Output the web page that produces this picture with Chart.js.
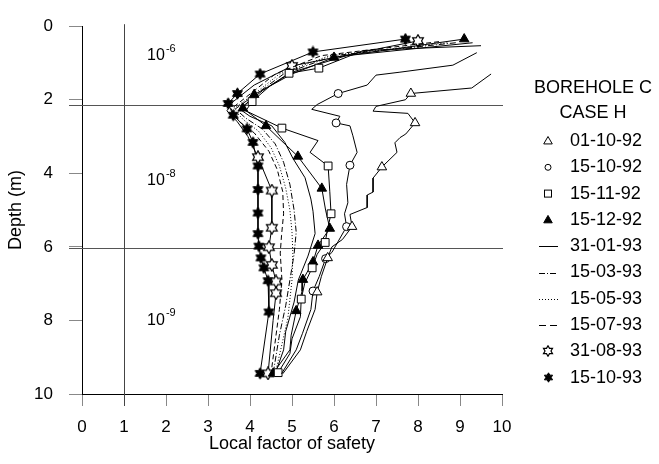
<!DOCTYPE html>
<html><head><meta charset="utf-8">
<script src="https://cdn.jsdelivr.net/npm/chart.js@4.4.0/dist/chart.umd.min.js"></script>
<style>html,body{margin:0;padding:0;background:#fff;}#wrap{width:659px;height:464px;}</style>
</head><body><div id="wrap"><canvas id="c" width="659" height="464"></canvas></div>
<script>
// ---------- DATA ----------
const seriesLabels = ['01-10-92','15-10-92','15-11-92','15-12-92','31-01-93','15-03-93','15-05-93','15-07-93','31-08-93','15-10-93'];
const xTicks = [0,1,2,3,4,5,6,7,8,9,10];
const yTicks = [0,2,4,6,8,10];
const layerDepths = [2.15, 6.03];
const layerLabels = [['10','-6',0.8],['10','-8',4.2],['10','-9',8.0]];
const legendTitle = ['BOREHOLE C','CASE H'];

// [local factor of safety, depth (m)]
const s_011092 = [[9.74,1.3],[9.28,1.68],[7.83,1.83],[7.7,2.0],[7.0,2.18],[6.93,2.31],[7.76,2.37],[7.93,2.63],[7.71,2.93],[7.57,3.03],[7.45,3.17],[7.5,3.43],[7.14,3.83],[6.93,4.13],[6.93,4.51],[6.79,4.59],[6.79,4.93],[6.38,5.12],[6.43,5.45],[6.2,5.8],[5.95,6.0],[5.85,6.3],[5.7,6.8],[5.6,7.23],[5.55,7.7],[5.35,8.3],[5.2,8.8],[4.78,9.45]];
const m_011092 = [1.83,2.63,3.83,5.45,6.3,7.23];
const s_151092 = [[9.4,0.72],[8.83,1.06],[7.57,1.25],[7.0,1.33],[6.79,1.6],[6.1,1.83],[5.6,2.13],[5.47,2.26],[6.14,2.45],[6.05,2.63],[6.38,2.71],[6.45,2.98],[6.55,3.43],[6.38,3.78],[6.3,4.3],[6.33,4.8],[6.25,5.1],[6.3,5.45],[6.1,5.85],[5.95,6.15],[5.8,6.32],[5.65,6.8],[5.5,7.2],[5.45,7.7],[5.25,8.35],[5.1,8.8],[4.75,9.45]];
const m_151092 = [1.83,2.63,3.78,5.45,6.32,7.2];
const s_151192 = [[9.5,0.53],[6.7,0.66],[5.64,1.14],[4.93,1.28],[4.5,1.6],[4.05,2.05],[3.9,2.3],[4.76,2.77],[5.62,3.11],[5.43,3.43],[5.86,3.8],[5.9,4.5],[5.93,5.1],[5.85,5.5],[5.79,5.88],[5.6,6.2],[5.48,6.57],[5.3,7.0],[5.22,7.42],[5.2,7.9],[5.0,8.5],[4.95,8.9],[4.67,9.42]];
const m_151192 = [1.14,1.28,2.05,2.77,3.8,5.1,5.88,6.57,7.42,9.42];
const s_151292 = [[9.1,0.35],[6.0,0.85],[5.0,1.3],[4.1,1.86],[3.83,2.23],[4.38,2.71],[5.14,3.54],[5.71,4.41],[5.8,5.0],[5.9,5.5],[5.62,5.96],[5.5,6.41],[5.26,6.89],[5.24,7.21],[5.1,7.74],[4.98,8.4],[4.95,8.8],[4.55,9.44]];
const m_151292 = [0.35,0.85,1.86,2.23,2.71,3.54,4.41,5.5,5.96,6.41,6.89,7.74,9.44];
const s_310193 = [[9.3,0.45],[6.3,0.8],[5.0,1.25],[4.3,1.75],[3.75,2.25],[4.0,2.45],[4.52,2.71],[4.83,3.16],[5.02,3.59],[5.31,4.12],[5.45,4.7],[5.5,5.03],[5.55,5.64],[5.38,6.25],[5.15,6.9],[5.05,7.5],[4.85,8.3],[4.8,8.8],[4.6,9.45]];
const s_150393 = [[8.9,0.45],[6.0,0.8],[4.8,1.3],[4.2,1.8],[3.65,2.25],[3.9,2.5],[4.3,2.8],[4.6,3.2],[4.8,3.7],[4.95,4.3],[5.05,5.0],[5.1,5.6],[5.05,6.2],[4.95,6.9],[4.85,7.6],[4.7,8.4],[4.55,9.45]];
const s_150593 = [[8.7,0.45],[5.9,0.8],[4.7,1.3],[4.15,1.8],[3.6,2.25],[3.85,2.55],[4.2,2.85],[4.5,3.3],[4.7,3.8],[4.85,4.4],[4.95,5.0],[5.0,5.6],[5.02,6.17],[5.0,6.9],[4.9,7.95],[4.6,9.45]];
const s_150793 = [[8.5,0.42],[5.7,0.8],[4.6,1.3],[4.05,1.8],[3.55,2.25],[3.75,2.6],[4.1,2.9],[4.45,3.4],[4.65,3.9],[4.78,4.5],[4.8,5.1],[4.75,5.7],[4.72,6.17],[4.76,6.9],[4.7,7.7],[4.5,9.45]];
const s_310893 = [[8.0,0.4],[5.0,1.08],[4.1,1.6],[3.6,2.05],[3.45,2.3],[3.7,2.6],[3.95,3.0],[4.19,3.56],[4.52,4.47],[4.52,5.48],[4.45,6.01],[4.52,6.49],[4.62,6.94],[4.62,7.26],[4.55,8.0],[4.43,9.44]];
const m_310893 = [0.4,1.08,3.56,4.47,5.48,6.01,6.49,6.94,7.26,9.44];
const s_151093 = [[7.7,0.35],[5.5,0.7],[4.24,1.3],[3.7,1.83],[3.48,2.1],[3.6,2.42],[3.93,2.79],[4.07,3.16],[4.19,3.8],[4.19,4.44],[4.19,5.08],[4.19,5.64],[4.21,5.98],[4.26,6.3],[4.33,6.57],[4.43,6.92],[4.45,7.77],[4.24,9.44]];
const m_151093 = [0.35,0.7,1.3,1.83,2.1,2.42,2.79,3.16,3.8,4.44,5.08,5.64,5.98,6.3,6.57,6.92,7.77,9.44];

const SERIES = [s_011092,s_151092,s_151192,s_151292,s_310193,s_150393,s_150593,s_150793,s_310893,s_151093];
const MARKS  = [m_011092,m_151092,m_151192,m_151292,[],[],[],[],m_310893,m_151093];

// ---------- STYLE ----------
const FAMILY = '"Liberation Sans", Arial, Helvetica, sans-serif';
function makeStar(size, filled){
  const c = document.createElement('canvas'); c.width = size; c.height = size;
  const g = c.getContext('2d');
  const cx = size/2, cy = size/2, R = size/2 - 0.8, r = R/Math.sqrt(3);
  g.beginPath();
  for (let i=0;i<12;i++){
    const a = -Math.PI/2 + i*Math.PI/6, rr = i%2===0 ? R : r;
    const px = cx + rr*Math.cos(a), py = cy + rr*Math.sin(a);
    if (i===0) g.moveTo(px,py); else g.lineTo(px,py);
  }
  g.closePath();
  g.fillStyle = filled ? '#000' : '#fff'; g.fill();
  g.lineWidth = filled ? 1 : 1.2; g.strokeStyle = '#000'; g.stroke();
  return c;
}
const STYLE = [
  {marker:'triangle', r:5.5, filled:false},
  {marker:'circle', r:4, filled:false},
  {marker:'rect', r:5.5, filled:false},
  {marker:'triangle', r:5.5, filled:true},
  {dash:[]},
  {dash:[6,2,1,2]},
  {dash:[1,2]},
  {dash:[5,3]},
  {marker:makeStar(14,false), legendImg:makeStar(12,false), r:5},
  {marker:makeStar(13,true), legendImg:makeStar(11,true), r:5}
];

const datasets = seriesLabels.map((lab,i) => {
  const pts = SERIES[i], mk = MARKS[i], st = STYLE[i];
  return {
    label: lab,
    data: pts.map(p => ({x:p[0], y:p[1]})),
    showLine: true,
    borderColor: '#000', borderWidth: 1, borderDash: st.dash || [],
    tension: 0, fill: false,
    pointStyle: st.marker || 'circle',
    pointRadius: ctx => (st.marker && mk.includes(pts[ctx.dataIndex][1])) ? st.r : 0,
    pointHoverRadius: 0,
    pointBackgroundColor: st.filled ? '#000' : '#fff',
    pointBorderColor: '#000', pointBorderWidth: 1
  };
});

// ---------- PLUGINS ----------
const overlay = {
  id:'overlay',
  beforeDatasetsDraw(chart){
    const {ctx, chartArea:a, scales:{x,y}} = chart;
    ctx.save();
    ctx.lineWidth = 1;
    ctx.strokeStyle = '#555';
    layerDepths.forEach(d => {
      const py = Math.round(y.getPixelForValue(d)) + 0.5;
      ctx.beginPath(); ctx.moveTo(a.left - 13, py); ctx.lineTo(a.right + 1, py); ctx.stroke();
    });
    const px = Math.round(x.getPixelForValue(1)) + 0.5;
    ctx.strokeStyle = '#444';
    ctx.beginPath(); ctx.moveTo(px, a.top - 2); ctx.lineTo(px, a.bottom + 12); ctx.stroke();
    // permeability labels
    ctx.fillStyle = '#000';
    ctx.textBaseline = 'middle';
    layerLabels.forEach(([base, sup, d]) => {
      const lx = x.getPixelForValue(1.55), ly = y.getPixelForValue(d);
      ctx.font = '16px ' + FAMILY;
      ctx.textAlign = 'left';
      ctx.fillText(base, lx, ly);
      const w = ctx.measureText(base).width;
      ctx.font = '11px ' + FAMILY;
      ctx.fillText(sup, lx + w + 1, ly - 7);
    });
    ctx.restore();
  },
  afterDraw(chart){
    const ctx = chart.ctx;
    ctx.save();
    ctx.fillStyle = '#000';
    ctx.font = '18px ' + FAMILY;
    ctx.textBaseline = 'middle';
    ctx.textAlign = 'center';
    ctx.fillText(legendTitle[0], 593, 88);
    ctx.fillText(legendTitle[1], 593, 113);
    ctx.textAlign = 'left';
    seriesLabels.forEach((lab,i) => {
      const yy = 141 + i*26.3, mx = 548;
      const st = STYLE[i];
      ctx.lineWidth = 1; ctx.strokeStyle = '#000';
      if (st.legendImg) {
        ctx.drawImage(st.legendImg, Math.round(mx - st.legendImg.width/2), Math.round(yy - st.legendImg.height/2));
      } else if (st.marker === 'triangle') {
        const s = 4.5;
        ctx.beginPath();
        ctx.moveTo(mx, yy - s); ctx.lineTo(mx + s*0.95, yy + s*0.65); ctx.lineTo(mx - s*0.95, yy + s*0.65); ctx.closePath();
        ctx.fillStyle = st.filled ? '#000' : '#fff'; ctx.fill(); ctx.stroke();
      } else if (st.marker === 'circle') {
        ctx.beginPath(); ctx.arc(mx, yy, 3, 0, Math.PI*2);
        ctx.fillStyle = '#fff'; ctx.fill(); ctx.stroke();
      } else if (st.marker === 'rect') {
        ctx.fillStyle = '#fff';
        ctx.fillRect(mx - 3, yy - 3, 6, 6); ctx.strokeRect(mx - 3.5, yy - 3.5, 7, 7);
      } else {
        ctx.setLineDash(i===7 ? [7,4] : st.dash);
        ctx.beginPath(); ctx.moveTo(539, Math.round(yy)+0.5); ctx.lineTo(558, Math.round(yy)+0.5); ctx.stroke();
        ctx.setLineDash([]);
      }
      ctx.fillStyle = '#000';
      ctx.fillText(lab, 570, yy);
    });
    ctx.restore();
  }
};

new Chart(document.getElementById('c'), {
  type: 'scatter',
  data: { datasets },
  options: {
    responsive: false, animation: false, events: [],
    layout: { padding: { top: 18, right: 157, left: 0, bottom: 0 } },
    plugins: { legend: { display: false }, tooltip: { enabled: false } },
    scales: {
      x: {
        type: 'linear', min: 0, max: 10,
        afterBuildTicks: s => { s.ticks = xTicks.map(v => ({value: v})); },
        afterFit: s => { s.height = 70; },
        ticks: { color: '#000', font: { size: 17, family: FAMILY }, padding: 11, maxRotation: 0, autoSkip: false },
        grid: { drawOnChartArea: false, drawTicks: true, tickLength: 12, color: '#888', lineWidth: 1 },
        border: { display: true, color: '#000', width: 1 },
        title: { display: true, text: 'Local factor of safety', color: '#000', font: { size: 18, family: FAMILY }, padding: { top: 0, bottom: 9 } }
      },
      y: {
        type: 'linear', min: 0, max: 10, reverse: true,
        afterBuildTicks: s => { s.ticks = yTicks.map(v => ({value: v})); },
        afterFit: s => { s.width = 82; },
        ticks: { color: '#000', font: { size: 17, family: FAMILY }, padding: 16, autoSkip: false },
        grid: { drawOnChartArea: false, drawTicks: true, tickLength: 13, color: '#888', lineWidth: 1 },
        border: { display: true, color: '#000', width: 1 },
        title: { display: true, text: 'Depth (m)', color: '#000', font: { size: 18, family: FAMILY }, padding: { top: 5, bottom: 0 } }
      }
    }
  },
  plugins: [overlay]
});
</script></body></html>
